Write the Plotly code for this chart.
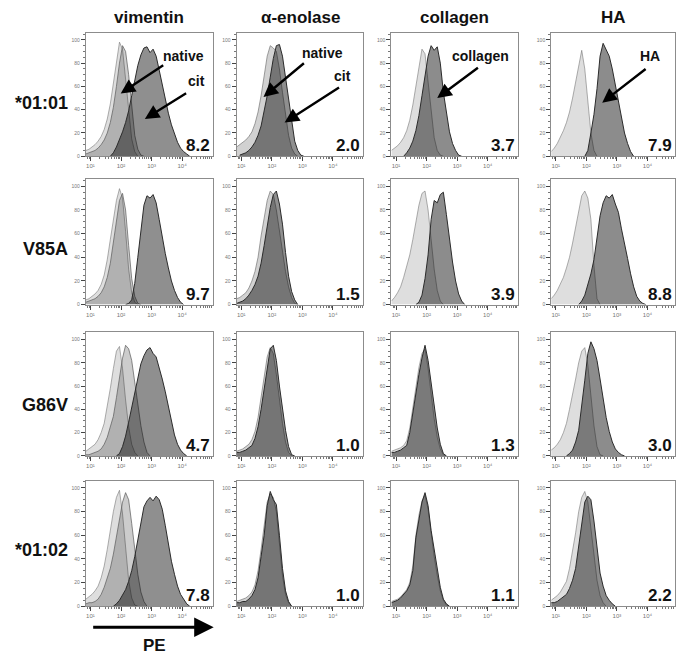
import math
import plotly.graph_objects as go

# Histogram bins on log10(PE): every curve starts at its own bin and advances 0.1 decade per value
BIN_STEP = 0.1

antigens = ["vimentin", "α-enolase", "collagen", "HA"]
alleles = ["*01:01", "V85A", "G86V", "*01:02"]
pct_positive = [
    ["8.2", "2.0", "3.7", "7.9"],
    ["9.7", "1.5", "3.9", "8.8"],
    ["4.7", "1.0", "1.3", "3.0"],
    ["7.8", "1.0", "1.1", "2.2"],
]
x_tick_text = ["10¹", "10²", "10³", "10⁴"]
y_tick_vals = [0, 20, 40, 60, 80, 100]

# ---- *01:01 ----
vim_0101_ctrl_x0 = 0.85
vim_0101_ctrl = [5, 6, 8, 10, 13, 17, 23, 32, 45, 63, 84, 98, 92, 68, 38, 15, 4, 0]
vim_0101_nat_x0 = 0.85
vim_0101_nat = [2, 3, 4, 5, 7, 10, 14, 20, 29, 42, 60, 80, 95, 90, 70, 42, 18, 6, 1, 0]
vim_0101_cit_x0 = 1.65
vim_0101_cit = [0, 3, 8, 14, 21, 29, 39, 52, 66, 78, 87, 93, 94, 89, 92, 86, 74, 61, 48, 37, 27, 19, 12, 7, 4, 2, 0]
eno_0101_nat_x0 = 0.85
eno_0101_nat = [8, 10, 12, 14, 17, 21, 28, 38, 52, 70, 86, 95, 93, 90, 75, 55, 35, 18, 7, 2, 0]
eno_0101_cit_x0 = 0.95
eno_0101_cit = [1, 2, 3, 5, 8, 12, 18, 26, 38, 52, 68, 84, 95, 96, 86, 68, 48, 28, 13, 5, 1, 0]
col_0101_ctrl_x0 = 0.85
col_0101_ctrl = [5, 7, 9, 12, 16, 22, 31, 44, 60, 78, 92, 88, 65, 38, 16, 5, 1, 0]
col_0101_ag_x0 = 1.25
col_0101_ag = [0, 3, 7, 13, 22, 35, 52, 70, 86, 95, 91, 94, 80, 55, 36, 21, 11, 5, 1, 0]
ha_0101_ctrl_x0 = 0.85
ha_0101_ctrl = [4, 7, 11, 16, 22, 29, 38, 50, 64, 80, 91, 75, 45, 20, 5, 0]
ha_0101_ag_x0 = 1.95
ha_0101_ag = [0, 5, 20, 36, 58, 86, 97, 92, 86, 75, 62, 46, 33, 20, 11, 4, 0]

# ---- V85A ----
vim_v85a_ctrl_x0 = 0.85
vim_v85a_ctrl = [4, 5, 7, 9, 12, 17, 25, 38, 55, 72, 88, 98, 90, 62, 30, 10, 2, 0]
vim_v85a_nat_x0 = 0.85
vim_v85a_nat = [2, 3, 4, 5, 7, 10, 15, 23, 35, 52, 72, 88, 94, 80, 50, 22, 7, 1, 0]
vim_v85a_cit_x0 = 2.15
vim_v85a_cit = [0, 1, 4, 18, 40, 65, 84, 92, 90, 93, 86, 72, 57, 43, 31, 20, 12, 6, 2, 0]
eno_v85a_nat_x0 = 0.85
eno_v85a_nat = [5, 6, 8, 10, 14, 20, 28, 40, 58, 75, 88, 96, 93, 80, 62, 44, 28, 15, 6, 1, 0]
eno_v85a_cit_x0 = 0.85
eno_v85a_cit = [1, 2, 3, 5, 8, 12, 17, 24, 35, 50, 66, 82, 93, 96, 85, 68, 44, 24, 11, 4, 0]
col_v85a_ctrl_x0 = 0.85
col_v85a_ctrl = [3, 6, 10, 15, 23, 32, 42, 55, 70, 84, 94, 96, 80, 55, 30, 12, 3, 0]
col_v85a_ag_x0 = 1.65
col_v85a_ag = [0, 2, 8, 22, 42, 72, 88, 86, 93, 95, 76, 55, 36, 20, 9, 3, 0]
ha_v85a_ctrl_x0 = 0.85
ha_v85a_ctrl = [5, 8, 12, 17, 23, 31, 40, 52, 66, 80, 92, 96, 90, 72, 33, 5, 0]
ha_v85a_ag_x0 = 1.75
ha_v85a_ag = [0, 3, 8, 16, 26, 38, 56, 75, 86, 92, 90, 93, 85, 78, 64, 50, 39, 26, 15, 7, 3, 1, 0]

# ---- G86V ----
vim_g86v_ctrl_x0 = 0.85
vim_g86v_ctrl = [4, 6, 8, 10, 14, 20, 28, 42, 58, 75, 90, 94, 75, 48, 25, 10, 3, 0]
vim_g86v_nat_x0 = 0.85
vim_g86v_nat = [1, 1, 2, 3, 4, 6, 10, 16, 24, 34, 50, 67, 84, 95, 92, 82, 62, 42, 26, 12, 3, 0]
vim_g86v_cit_x0 = 1.85
vim_g86v_cit = [0, 2, 8, 17, 29, 42, 55, 68, 79, 86, 91, 93, 88, 85, 76, 66, 55, 42, 29, 18, 10, 5, 2, 0]
eno_g86v_nat_x0 = 0.85
eno_g86v_nat = [4, 5, 6, 8, 10, 14, 21, 33, 50, 68, 85, 93, 88, 70, 48, 28, 12, 3, 0]
eno_g86v_cit_x0 = 0.85
eno_g86v_cit = [3, 3, 4, 5, 7, 9, 15, 25, 40, 58, 77, 92, 95, 82, 60, 40, 22, 8, 1, 0]
col_g86v_ctrl_x0 = 0.85
col_g86v_ctrl = [4, 5, 6, 7, 9, 13, 24, 42, 60, 76, 88, 92, 75, 52, 32, 16, 6, 1, 0]
col_g86v_ag_x0 = 0.85
col_g86v_ag = [3, 3, 4, 5, 7, 9, 20, 38, 55, 70, 84, 95, 82, 62, 41, 24, 10, 2, 0]
ha_g86v_ctrl_x0 = 0.85
ha_g86v_ctrl = [5, 7, 10, 14, 20, 28, 40, 52, 66, 80, 90, 93, 78, 52, 26, 8, 1, 0]
ha_g86v_ag_x0 = 1.35
ha_g86v_ag = [0, 2, 5, 12, 22, 42, 65, 88, 98, 92, 82, 66, 50, 33, 21, 12, 6, 3, 1, 0]

# ---- *01:02 ----
vim_0102_ctrl_x0 = 0.85
vim_0102_ctrl = [6, 8, 10, 13, 17, 24, 34, 48, 64, 80, 92, 98, 78, 48, 22, 7, 1, 0]
vim_0102_nat_x0 = 0.85
vim_0102_nat = [2, 3, 3, 4, 6, 10, 16, 24, 32, 44, 58, 75, 88, 96, 90, 70, 47, 27, 12, 4, 0]
vim_0102_cit_x0 = 1.75
vim_0102_cit = [0, 2, 5, 9, 14, 21, 30, 42, 56, 72, 84, 89, 92, 89, 93, 90, 82, 68, 53, 38, 27, 17, 10, 6, 2, 0]
eno_0102_nat_x0 = 0.85
eno_0102_nat = [4, 5, 6, 7, 9, 12, 18, 30, 48, 66, 88, 95, 92, 80, 52, 26, 10, 3, 0]
eno_0102_cit_x0 = 0.85
eno_0102_cit = [3, 3, 4, 4, 6, 9, 14, 24, 42, 60, 85, 97, 90, 86, 60, 32, 13, 4, 0]
col_0102_ctrl_x0 = 0.85
col_0102_ctrl = [4, 5, 6, 8, 11, 14, 20, 34, 60, 77, 89, 94, 82, 60, 42, 26, 13, 5, 1, 0]
col_0102_ag_x0 = 0.85
col_0102_ag = [3, 4, 5, 7, 10, 13, 18, 30, 58, 75, 88, 96, 85, 64, 47, 30, 16, 6, 2, 0]
ha_0102_ctrl_x0 = 0.85
ha_0102_ctrl = [5, 7, 9, 12, 16, 21, 32, 46, 62, 80, 92, 97, 88, 66, 42, 22, 9, 3, 0]
ha_0102_ag_x0 = 0.85
ha_0102_ag = [3, 3, 4, 6, 8, 10, 15, 22, 32, 50, 70, 88, 93, 90, 72, 47, 28, 17, 9, 5, 2, 0]

# panel contents, drawn back to front
panels = [
    [
        [("ctrl", vim_0101_ctrl_x0, vim_0101_ctrl), ("nat", vim_0101_nat_x0, vim_0101_nat), ("cit", vim_0101_cit_x0, vim_0101_cit)],
        [("nat2", eno_0101_nat_x0, eno_0101_nat), ("cit", eno_0101_cit_x0, eno_0101_cit)],
        [("ctrl", col_0101_ctrl_x0, col_0101_ctrl), ("ag", col_0101_ag_x0, col_0101_ag)],
        [("ctrl", ha_0101_ctrl_x0, ha_0101_ctrl), ("ag", ha_0101_ag_x0, ha_0101_ag)],
    ],
    [
        [("ctrl", vim_v85a_ctrl_x0, vim_v85a_ctrl), ("nat", vim_v85a_nat_x0, vim_v85a_nat), ("cit", vim_v85a_cit_x0, vim_v85a_cit)],
        [("nat2", eno_v85a_nat_x0, eno_v85a_nat), ("cit", eno_v85a_cit_x0, eno_v85a_cit)],
        [("ctrl", col_v85a_ctrl_x0, col_v85a_ctrl), ("ag", col_v85a_ag_x0, col_v85a_ag)],
        [("ctrl", ha_v85a_ctrl_x0, ha_v85a_ctrl), ("ag", ha_v85a_ag_x0, ha_v85a_ag)],
    ],
    [
        [("ctrl", vim_g86v_ctrl_x0, vim_g86v_ctrl), ("nat", vim_g86v_nat_x0, vim_g86v_nat), ("cit", vim_g86v_cit_x0, vim_g86v_cit)],
        [("nat2", eno_g86v_nat_x0, eno_g86v_nat), ("cit", eno_g86v_cit_x0, eno_g86v_cit)],
        [("ctrl", col_g86v_ctrl_x0, col_g86v_ctrl), ("ag", col_g86v_ag_x0, col_g86v_ag)],
        [("ctrl", ha_g86v_ctrl_x0, ha_g86v_ctrl), ("ag", ha_g86v_ag_x0, ha_g86v_ag)],
    ],
    [
        [("ctrl", vim_0102_ctrl_x0, vim_0102_ctrl), ("nat", vim_0102_nat_x0, vim_0102_nat), ("cit", vim_0102_cit_x0, vim_0102_cit)],
        [("nat2", eno_0102_nat_x0, eno_0102_nat), ("cit", eno_0102_cit_x0, eno_0102_cit)],
        [("ctrl", col_0102_ctrl_x0, col_0102_ctrl), ("ag", col_0102_ag_x0, col_0102_ag)],
        [("ctrl", ha_0102_ctrl_x0, ha_0102_ctrl), ("ag", ha_0102_ag_x0, ha_0102_ag)],
    ],
]

# fill opacity (over white) and outline colour for each overlay kind
STYLE = {
    "ctrl": ("rgba(0,0,0,0.13)", "rgba(110,110,110,0.55)"),
    "nat": ("rgba(0,0,0,0.20)", "rgba(90,90,90,0.7)"),
    "nat2": ("rgba(0,0,0,0.18)", "rgba(100,100,100,0.6)"),
    "cit": ("rgba(0,0,0,0.44)", "#2b2b2b"),
    "ag": ("rgba(0,0,0,0.45)", "#2b2b2b"),
}

W, H = 676, 659
col_left = [86, 237, 392, 552]
col_right = [213, 364, 519, 676]
row_top = [33, 180, 334, 483]
row_bottom = [157, 306, 458, 609]
PX_PER_DECADE = 30.6
X_MIN = 0.85
Y_MAX = 106

FONT = "Liberation Sans, Arial, sans-serif"

fig = go.Figure()
layout = {}
annotations = []

minor_x = [d + math.log10(k) for d in range(0, 5) for k in range(2, 10)]

for r in range(4):
    for c in range(4):
        n = r * 4 + c + 1
        xa = "x" if n == 1 else f"x{n}"
        ya = "y" if n == 1 else f"y{n}"
        for kind, x0, vals in panels[r][c]:
            fill, line = STYLE[kind]
            xs = [x0 + BIN_STEP * i for i in range(len(vals))]
            fig.add_trace(go.Scatter(
                x=xs, y=vals, xaxis=xa, yaxis=ya, mode="lines",
                line=dict(color=line, width=1), fill="tozeroy", fillcolor=fill,
                showlegend=False, hoverinfo="skip",
            ))
        x_max = X_MIN + (col_right[c] - col_left[c]) / PX_PER_DECADE
        layout["xaxis" if n == 1 else f"xaxis{n}"] = dict(
            domain=[col_left[c] / W, col_right[c] / W],
            anchor=ya, range=[X_MIN, x_max],
            showline=True, mirror=True, linecolor="#8c8c8c", linewidth=1,
            showgrid=False, zeroline=False,
            ticks="outside", ticklen=4, tickcolor="#444", tickwidth=1,
            tickvals=[1, 2, 3, 4], ticktext=x_tick_text,
            tickfont=dict(size=6, color="#777", family=FONT),
            minor=dict(tickvals=minor_x, ticks="outside", ticklen=2, tickcolor="#777"),
        )
        layout["yaxis" if n == 1 else f"yaxis{n}"] = dict(
            domain=[1 - row_bottom[r] / H, 1 - row_top[r] / H],
            anchor=xa, range=[0, Y_MAX],
            showline=True, mirror=True, linecolor="#8c8c8c", linewidth=1,
            showgrid=False, zeroline=False,
            ticks="outside", ticklen=4, tickcolor="#444", tickwidth=1,
            tickvals=y_tick_vals, ticktext=[str(v) for v in y_tick_vals],
            tickfont=dict(size=5, color="#777", family=FONT),
            minor=dict(dtick=5, ticks="outside", ticklen=2, tickcolor="#777"),
        )
        # % positive in the lower-right corner
        annotations.append(dict(
            text=f"<b>{pct_positive[r][c]}</b>", xref=f"{xa} domain", yref=f"{ya} domain",
            x=1, y=0, xanchor="right", yanchor="bottom", xshift=-1, yshift=-1,
            showarrow=False, font=dict(size=17, color="#111", family=FONT),
        ))

# column headings
for c, name in enumerate(antigens):
    annotations.append(dict(
        text=f"<b>{name}</b>", xref="paper", yref="paper",
        x=(col_left[c] + col_right[c]) / 2 / W, y=1 - 18 / H,
        xanchor="center", yanchor="middle", showarrow=False,
        font=dict(size=17, color="#111", family=FONT),
    ))

# row headings
row_label_y = [103, 250, 407, 553]
for r, name in enumerate(alleles):
    annotations.append(dict(
        text=f"<b>{name}</b>", xref="paper", yref="paper",
        x=70 / W, y=1 - row_label_y[r] / H,
        xanchor="right", yanchor="middle", showarrow=False,
        font=dict(size=18, color="#111", family=FONT),
    ))

# callouts in the top row: (col, label, label x/y, tail x/y, head x/y) in panel data units
callouts = [
    (0, "native", 4.05, 86, 3.43, 79, 1.99, 54),
    (0, "cit", 4.48, 65, 4.18, 55, 2.78, 32),
    (1, "native", 3.66, 89, 3.10, 81, 1.73, 51),
    (1, "cit", 4.31, 69, 4.25, 60, 2.42, 29),
    (2, "collagen", 3.76, 86, 3.73, 77, 2.35, 50),
    (3, "HA", 4.09, 86, 3.99, 76, 2.52, 46),
]
for c, label, lx, ly, tx, ty, hx, hy in callouts:
    n = c + 1
    xa = "x" if n == 1 else f"x{n}"
    ya = "y" if n == 1 else f"y{n}"
    annotations.append(dict(
        text=f"<b>{label}</b>", xref=xa, yref=ya, x=lx, y=ly,
        xanchor="center", yanchor="middle", showarrow=False,
        font=dict(size=14, color="#111", family=FONT),
    ))
    annotations.append(dict(
        text="", xref=xa, yref=ya, x=hx, y=hy, axref=xa, ayref=ya, ax=tx, ay=ty,
        showarrow=True, arrowhead=2, arrowsize=1.2, arrowwidth=2.4,
        arrowcolor="#000", standoff=0, startstandoff=0,
    ))

# PE axis arrow under the first column
annotations.append(dict(
    text="", xref="paper", yref="paper", x=214 / W, y=1 - 630 / H,
    ax=-122, ay=0, showarrow=True, arrowhead=2, arrowsize=1.3, arrowwidth=3,
    arrowcolor="#000", standoff=0,
))
annotations.append(dict(
    text="<b>PE</b>", xref="paper", yref="paper", x=155 / W, y=1 - 648 / H,
    xanchor="center", yanchor="middle", showarrow=False,
    font=dict(size=17, color="#111", family=FONT),
))

fig.update_layout(
    width=W, height=H, margin=dict(l=0, r=0, t=0, b=0),
    paper_bgcolor="white", plot_bgcolor="white",
    showlegend=False, annotations=annotations, **layout,
)

fig.write_html("out.html")
